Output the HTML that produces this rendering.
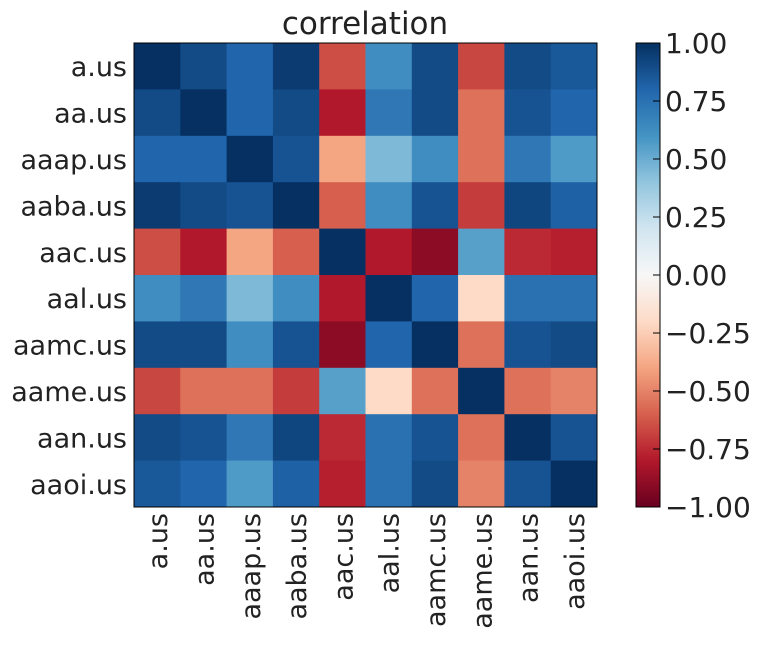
<!DOCTYPE html>
<html><head><meta charset="utf-8"><style>
body{margin:0;background:#fff;}
svg{font-family:"DejaVu Sans","Liberation Sans",sans-serif;}
</style></head><body>
<svg width="757" height="640">
<defs>
<linearGradient id="cbg" x1="0" y1="1" x2="0" y2="0">
<stop offset="0" stop-color="#67001f"/><stop offset="0.1" stop-color="#b2182b"/><stop offset="0.2" stop-color="#d6604d"/><stop offset="0.3" stop-color="#f4a582"/><stop offset="0.4" stop-color="#fddbc7"/><stop offset="0.5" stop-color="#f7f7f7"/><stop offset="0.6" stop-color="#d1e5f0"/><stop offset="0.7" stop-color="#92c5de"/><stop offset="0.8" stop-color="#4393c3"/><stop offset="0.9" stop-color="#2166ac"/><stop offset="1" stop-color="#053061"/>
</linearGradient>
</defs>
<text x="365" y="34" font-size="31" text-anchor="middle" fill="#222">correlation</text>
<g id="heat"></g>
<rect x="134" y="43" width="463" height="464" fill="none" stroke="#000" stroke-width="1"/>
<rect x="636" y="43" width="24" height="464" fill="url(#cbg)" stroke="#000" stroke-width="1"/>
<g id="cbticks"></g>
</svg>
<script>
const labels=["a.us","aa.us","aaap.us","aaba.us","aac.us","aal.us","aamc.us","aame.us","aan.us","aaoi.us"];
const row0=[1,0.9,0.8,0.96,-0.65,0.62,0.9,-0.67,0.9,0.85];
const row1=[0.9,1,0.8,0.9,-0.8,0.72,0.9,-0.55,0.87,0.8];
const row2=[0.8,0.8,1,0.87,-0.4,0.45,0.62,-0.55,0.72,0.57];
const row3=[0.96,0.9,0.87,1,-0.6,0.62,0.87,-0.7,0.92,0.82];
const row4=[-0.65,-0.8,-0.4,-0.6,1,-0.8,-0.9,0.55,-0.75,-0.78];
const row5=[0.62,0.72,0.45,0.62,-0.8,1,0.8,-0.2,0.75,0.75];
const row6=[0.9,0.9,0.62,0.87,-0.9,0.8,1,-0.55,0.87,0.9];
const row7=[-0.67,-0.55,-0.55,-0.7,0.55,-0.2,-0.55,1,-0.55,-0.5];
const row8=[0.9,0.87,0.72,0.92,-0.75,0.75,0.87,-0.55,1,0.87];
const row9=[0.85,0.8,0.57,0.82,-0.78,0.75,0.9,-0.5,0.87,1];
const matrix=[row0,row1,row2,row3,row4,row5,row6,row7,row8,row9];
const cbTicks=[1,0.75,0.5,0.25,0,-0.25,-0.5,-0.75,-1];

const cmap=["#67001f","#b2182b","#d6604d","#f4a582","#fddbc7","#f7f7f7","#d1e5f0","#92c5de","#4393c3","#2166ac","#053061"].map(h=>[1,3,5].map(i=>parseInt(h.substr(i,2),16)));
function color(v){let t=(v+1)/2*10;t=Math.max(0,Math.min(10,t));const i=Math.min(9,Math.floor(t)),f=t-i;const c=cmap[i].map((a,k)=>Math.round(a+(cmap[i+1][k]-a)*f));return `rgb(${c})`;}
const X0=134,Y0=43,W=463,H=464,n=labels.length,cw=W/n,ch=H/n;
const xs=i=>X0+i*cw, ys=j=>Y0+j*ch;
const NS="http://www.w3.org/2000/svg";
const svg=document.querySelector("svg"),heat=document.getElementById("heat"),cb=document.getElementById("cbticks");
function mk(t,a,p){const e=document.createElementNS(NS,t);for(const k in a)e.setAttribute(k,a[k]);p.appendChild(e);return e;}
matrix.forEach((r,j)=>r.forEach((v,i)=>{
 const e=mk("rect",{x:xs(i),y:ys(j),width:cw+0.5,height:ch+0.5,fill:color(v)},heat);
 
 
}));
labels.forEach((l,j)=>{
 const t=mk("text",{x:127,y:ys(j)+ch/2+10,"font-size":27,"text-anchor":"end",fill:"#222"},svg);t.textContent=l;
 
 
 const cx=xs(j)+cw/2+10;
 const u=mk("text",{x:0,y:0,"font-size":27,"text-anchor":"end",fill:"#222",transform:`translate(${cx},513) rotate(-90)`},svg);u.textContent=l;
 
 
});
const cy=v=>Y0+H-(v+1)/2*H;
cbTicks.forEach(v=>{
 const y=cy(v);
 const ln=mk("line",{x1:653,x2:660,y1:y,y2:y,stroke:"#000"},cb);
 
 
 const t=mk("text",{x:665,y:y+10,"font-size":28,fill:"#222"},cb);
 t.textContent=(v<0?"\u2212":"")+Math.abs(v).toFixed(2);
 
 
});
</script>
</body></html>
